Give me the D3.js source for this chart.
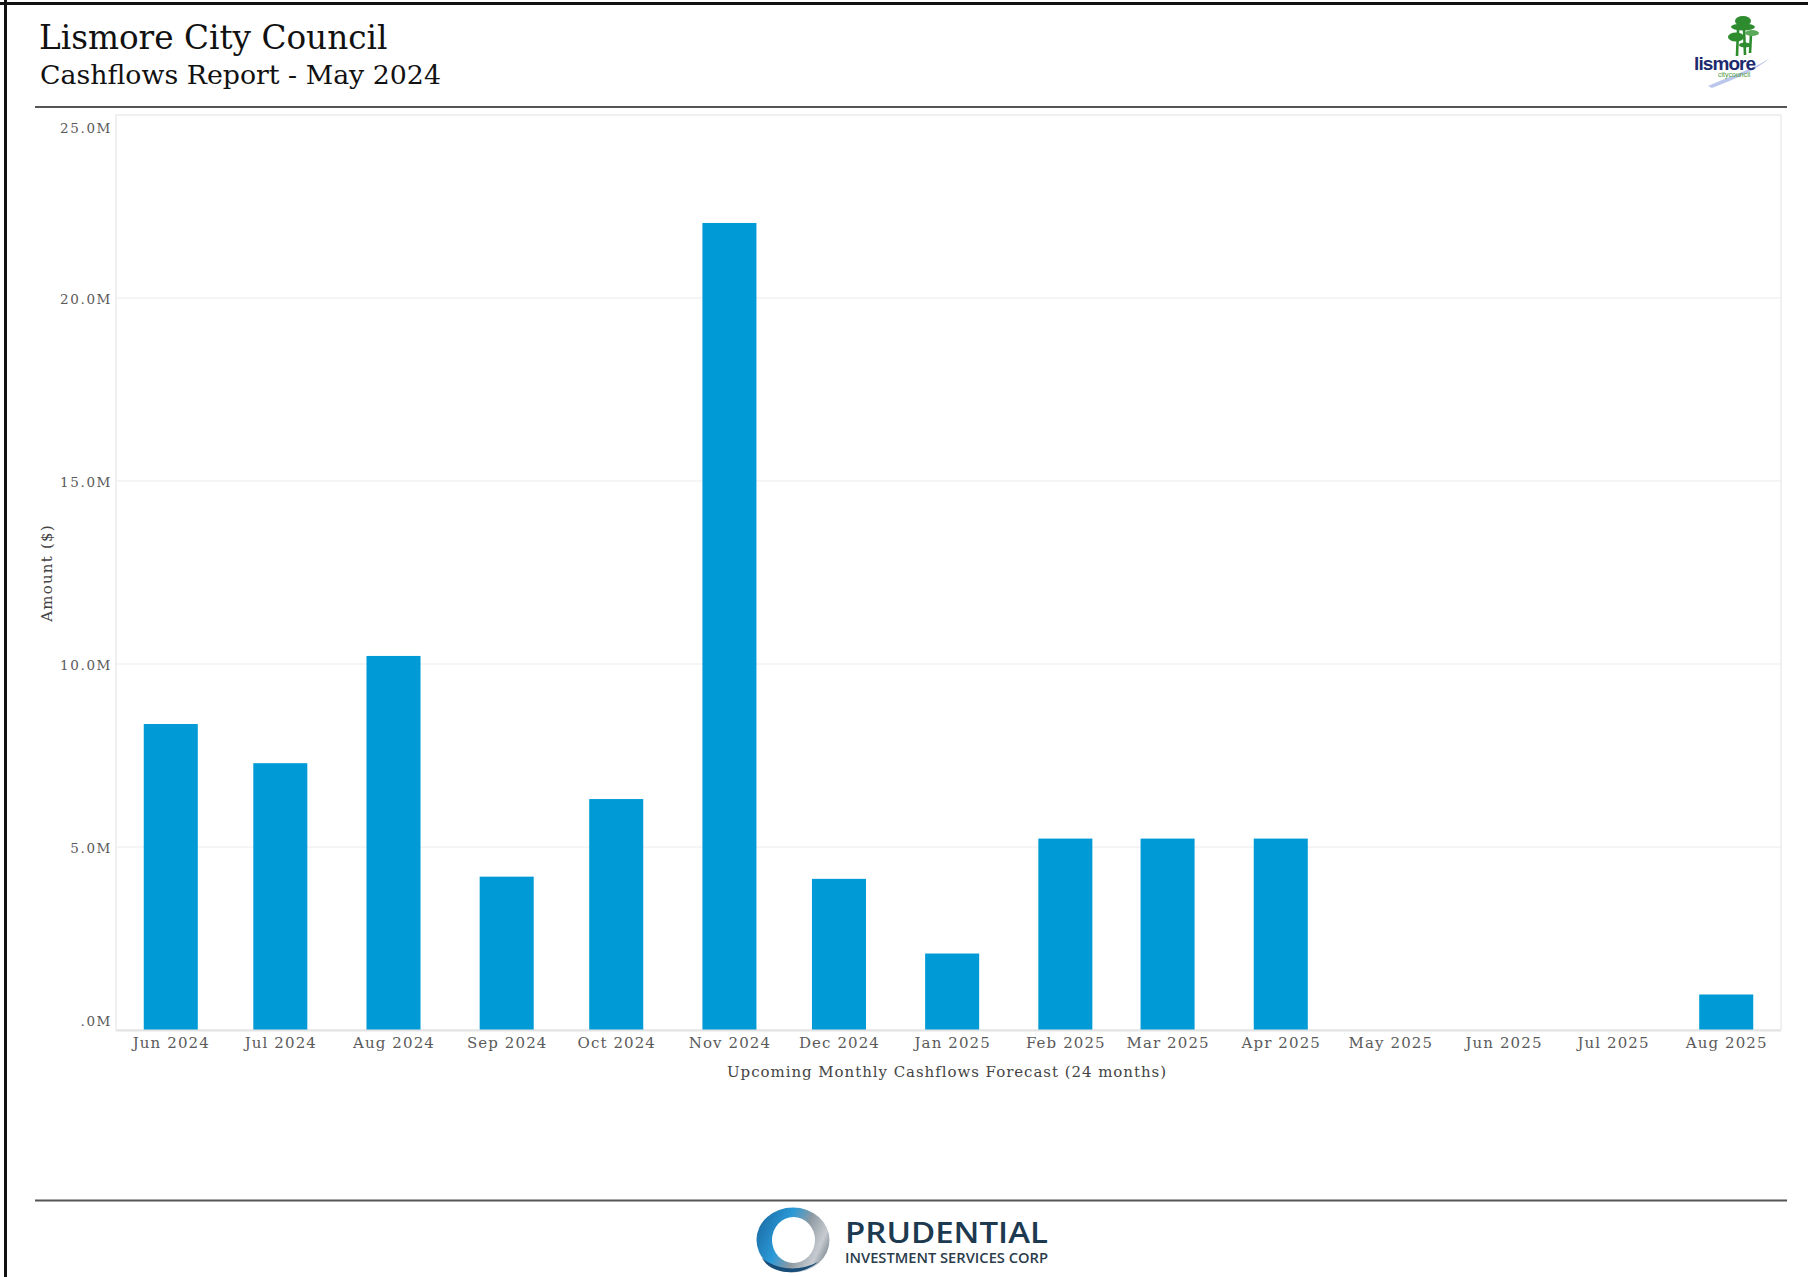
<!DOCTYPE html>
<html>
<head>
<meta charset="utf-8">
<script src="https://cdn.jsdelivr.net/npm/d3@7"></script>
<style>
  html, body { margin: 0; padding: 0; background: #fff; }
  svg { display: block; }
</style>
</head>
<body>
<svg id="chart" width="1810" height="1277"></svg>
<script>
// Monthly cashflow forecast (first day of each month) and amounts in $M
const months = ["2024-06-01", "2024-07-01", "2024-08-01", "2024-09-01", "2024-10-01",
                "2024-11-01", "2024-12-01", "2025-01-01", "2025-02-01", "2025-03-01",
                "2025-04-01", "2025-05-01", "2025-06-01", "2025-07-01", "2025-08-01"];
const amounts = [8.36, 7.29, 10.22, 4.19, 6.31, 22.05, 4.13, 2.09, 5.23, 5.23, 5.23, 0, 0, 0, 0.97];

const yTicks = [0, 5, 10, 15, 20, 25];
const yTickLabels = [".0M", "5.0M", "10.0M", "15.0M", "20.0M", "25.0M"];

const titleText = "Lismore City Council";
const subtitleText = "Cashflows Report - May 2024";
const xTitle = "Upcoming Monthly Cashflows Forecast (24 months)";
const yTitle = "Amount ($)";

const svg = d3.select("#chart");
const serif = "'DejaVu Serif', serif";

// page frame
svg.append("line").attr("x1", 5.5).attr("x2", 5.5).attr("y1", 0).attr("y2", 1277)
  .attr("stroke", "#111").attr("stroke-width", 3);
svg.append("line").attr("x1", 0).attr("x2", 1808).attr("y1", 3.5).attr("y2", 3.5)
  .attr("stroke", "#111").attr("stroke-width", 3);

// header
svg.append("text").attr("x", 39).attr("y", 48.5).text(titleText)
  .attr("font-family", serif).attr("font-size", 32.7).attr("fill", "#111");
svg.append("text").attr("x", 40).attr("y", 83.5).text(subtitleText)
  .attr("font-family", serif).attr("font-size", 26.8).attr("fill", "#111");
svg.append("line").attr("x1", 35).attr("x2", 1787).attr("y1", 107).attr("y2", 107)
  .attr("stroke", "#555").attr("stroke-width", 2);
svg.append("line").attr("x1", 35).attr("x2", 1787).attr("y1", 1200.5).attr("y2", 1200.5)
  .attr("stroke", "#555").attr("stroke-width", 2);

// council logo (top right)
const logo = svg.append("g");
const green = "#2e8b2e";
[[1738, 30, 1737, 56], [1744, 28, 1745, 55], [1751, 34, 1750, 53]].forEach(t =>
  logo.append("line").attr("x1", t[0]).attr("y1", t[1]).attr("x2", t[2]).attr("y2", t[3])
    .attr("stroke", green).attr("stroke-width", 2.6));
logo.append("ellipse").attr("cx", 1743).attr("cy", 21).attr("rx", 8).attr("ry", 5).attr("fill", green);
logo.append("ellipse").attr("cx", 1743).attr("cy", 27).attr("rx", 12).attr("ry", 3.5).attr("fill", green);
logo.append("ellipse").attr("cx", 1736).attr("cy", 37).attr("rx", 8).attr("ry", 4.5).attr("fill", green);
logo.append("ellipse").attr("cx", 1752).attr("cy", 33).attr("rx", 7).attr("ry", 3).attr("fill", "#5aa85a");
logo.append("ellipse").attr("cx", 1745).attr("cy", 45).attr("rx", 6).attr("ry", 2.5).attr("fill", green);
logo.append("path").attr("d", "M1708,86 C1730,76 1752,70 1770,58 C1756,70 1738,78 1712,88 Z")
  .attr("fill", "#a9b8e6").attr("opacity", 0.8);
logo.append("text").attr("x", 1694).attr("y", 70).text("lismore")
  .attr("font-family", "'Liberation Sans', Arial, sans-serif").attr("font-weight", "bold")
  .attr("font-size", 19).attr("letter-spacing", -0.9).attr("fill", "#1c2a6e");
logo.append("text").attr("x", 1718).attr("y", 77).text("citycouncil")
  .attr("font-family", "'Liberation Sans', Arial, sans-serif").attr("font-size", 7)
  .attr("fill", "#4a9a3a");

// chart scales
const x = d3.scaleUtc()
  .domain([new Date(Date.UTC(2024, 4, 17)), new Date(Date.UTC(2025, 7, 16))])
  .range([116, 1781]);
const y = d3.scaleLinear().domain([0, 25]).range([1030, 115]);
const parse = d3.utcParse("%Y-%m-%d");
const data = months.map((m, i) => ({ date: parse(m), value: amounts[i] }));
const halfBar = 7.4 * 24 * 3600 * 1000;

// plot frame and gridlines
svg.append("rect").attr("x", 116).attr("y", 115).attr("width", 1665).attr("height", 915)
  .attr("fill", "#fff").attr("stroke", "#ececec").attr("stroke-width", 1.5);
svg.append("g").selectAll("line").data(yTicks.slice(1, -1)).join("line")
  .attr("x1", 116).attr("x2", 1781).attr("y1", d => y(d)).attr("y2", d => y(d))
  .attr("stroke", "#ececec").attr("stroke-width", 1.2);

// bars
svg.append("g").selectAll("rect").data(data.filter(d => d.value > 0)).join("rect")
  .attr("x", d => x(new Date(+d.date - halfBar)))
  .attr("width", d => x(new Date(+d.date + halfBar)) - x(new Date(+d.date - halfBar)))
  .attr("y", d => y(d.value))
  .attr("height", d => y(0) - y(d.value))
  .attr("fill", "#009ad6");

// baseline
svg.append("line").attr("x1", 116).attr("x2", 1781).attr("y1", 1030.5).attr("y2", 1030.5)
  .attr("stroke", "#e4e4e4").attr("stroke-width", 2);

// x axis
const xAxis = d3.axisBottom(x).tickValues(data.map(d => d.date))
  .tickFormat(d3.utcFormat("%b %Y")).tickSize(0).tickPadding(0);
const gx = svg.append("g").attr("transform", "translate(0,1037)").call(xAxis);
gx.select(".domain").remove();
gx.selectAll("text").attr("font-family", serif).attr("font-size", 15)
  .attr("letter-spacing", 1.1).attr("fill", "#5a5a5a").attr("dy", "0.75em");

// y axis labels (kept inside the plot band at the extremes)
const yAxis = d3.axisLeft(y).tickValues(yTicks)
  .tickFormat((d, i) => yTickLabels[i]).tickSize(0).tickPadding(0);
const gy = svg.append("g").attr("transform", "translate(112,0)").call(yAxis);
gy.select(".domain").remove();
gy.selectAll(".tick").attr("transform", d => {
  const base = Math.min(Math.max(y(d) + 6.3, 132.5), 1026);
  return `translate(0,${base})`;
});
gy.selectAll("text").attr("font-family", serif).attr("font-size", 13.5)
  .attr("letter-spacing", 1.6).attr("fill", "#5a5a5a").attr("dy", 0).attr("x", 0);

// axis titles
svg.append("text").attr("x", 947).attr("y", 1077).attr("text-anchor", "middle").text(xTitle)
  .attr("font-family", serif).attr("font-size", 15).attr("letter-spacing", 0.95).attr("fill", "#444");
svg.append("text").attr("transform", "translate(52,573) rotate(-90)").attr("text-anchor", "middle")
  .text(yTitle).attr("font-family", serif).attr("font-size", 15).attr("letter-spacing", 1.2)
  .attr("fill", "#444");

// Prudential logo (footer)
const defs = svg.append("defs");
const grad = defs.append("linearGradient").attr("id", "ringGrad")
  .attr("x1", "0%").attr("y1", "30%").attr("x2", "100%").attr("y2", "70%");
grad.append("stop").attr("offset", "0%").attr("stop-color", "#1c6fa8");
grad.append("stop").attr("offset", "35%").attr("stop-color", "#2a9ad8");
grad.append("stop").attr("offset", "60%").attr("stop-color", "#8f9aa3");
grad.append("stop").attr("offset", "85%").attr("stop-color", "#c6cbd0");
grad.append("stop").attr("offset", "100%").attr("stop-color", "#7d8891");
const foot = svg.append("g");
foot.append("ellipse").attr("cx", 793).attr("cy", 1240).attr("rx", 36.5).attr("ry", 32.5)
  .attr("fill", "url(#ringGrad)");
foot.append("path")
  .attr("d", "M762,1258 C770,1274 800,1278 818,1262 C800,1272 776,1270 762,1258 Z")
  .attr("fill", "#174d78");
foot.append("ellipse").attr("cx", 793.5).attr("cy", 1240).attr("rx", 21.5).attr("ry", 23)
  .attr("fill", "#fff");
foot.append("text").attr("x", 845).attr("y", 1243).text("PRUDENTIAL")
  .attr("font-family", "'Open Sans', sans-serif").attr("font-weight", 600).attr("font-size", 29)
  .attr("textLength", 203).attr("lengthAdjust", "spacingAndGlyphs").attr("fill", "#1d3a50");
foot.append("text").attr("x", 845).attr("y", 1263).text("INVESTMENT SERVICES CORP")
  .attr("font-family", "'Open Sans', sans-serif").attr("font-weight", 600).attr("font-size", 14.5)
  .attr("textLength", 203).attr("lengthAdjust", "spacingAndGlyphs").attr("fill", "#2b3c4c");
</script>
</body>
</html>
